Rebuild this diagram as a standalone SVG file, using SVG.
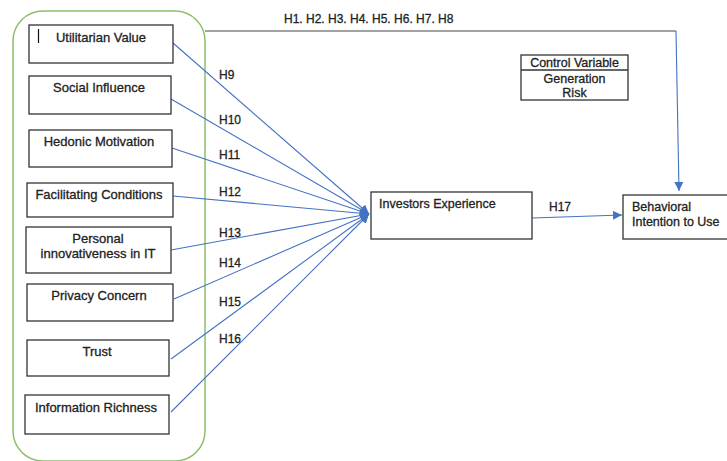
<svg xmlns="http://www.w3.org/2000/svg" width="727" height="461" viewBox="0 0 727 461">
<defs>
<marker id="ah" viewBox="0 0 10 10" refX="10" refY="5" markerWidth="9" markerHeight="9" markerUnits="userSpaceOnUse" orient="auto">
<path d="M0,0 L10,5 L0,10 Z" fill="#4472C4"/>
</marker>
<style>
.box{fill:#fff;stroke:#333;stroke-width:1.3}
.t{font-family:"Liberation Sans",Arial,sans-serif;font-size:13px;fill:#222;stroke:#222;stroke-width:0.3;text-anchor:middle}
.tl{font-family:"Liberation Sans",Arial,sans-serif;font-size:12.5px;fill:#222;stroke:#222;stroke-width:0.3}
.h{font-family:"Liberation Sans",Arial,sans-serif;font-size:12px;fill:#222;stroke:#222;stroke-width:0.3}
.c{stroke:#4472C4;stroke-width:1.1;fill:none}
</style>
</defs>
<rect width="727" height="461" fill="#fff"/>
<rect x="13" y="11" width="192" height="450" rx="30" ry="30" fill="none" stroke="#8DC06A" stroke-width="1.5"/>

<g id="connectors">
<polyline points="205,31 676,31" fill="none" stroke="#444" stroke-width="1.2"/>
<line class="c" x1="676" y1="31" x2="679" y2="191" marker-end="url(#ah)"/>
<line class="c" x1="173" y1="43" x2="369" y2="214" marker-end="url(#ah)"/>
<line class="c" x1="171" y1="99" x2="369" y2="214" marker-end="url(#ah)"/>
<line class="c" x1="172" y1="148" x2="369" y2="214" marker-end="url(#ah)"/>
<line class="c" x1="173" y1="196" x2="369" y2="214" marker-end="url(#ah)"/>
<line class="c" x1="171" y1="250" x2="369" y2="214" marker-end="url(#ah)"/>
<line class="c" x1="174" y1="299" x2="369" y2="214" marker-end="url(#ah)"/>
<line class="c" x1="171" y1="359" x2="369" y2="214" marker-end="url(#ah)"/>
<line class="c" x1="171" y1="412" x2="369" y2="214" marker-end="url(#ah)"/>
<line class="c" x1="532" y1="218" x2="622" y2="215" marker-end="url(#ah)"/>
<text class="h" x="284" y="23">H1. H2. H3. H4. H5. H6. H7. H8</text>
<text class="h" x="219" y="79">H9</text>
<text class="h" x="219" y="124">H10</text>
<text class="h" x="219" y="159">H11</text>
<text class="h" x="219" y="196">H12</text>
<text class="h" x="219" y="237">H13</text>
<text class="h" x="219" y="267">H14</text>
<text class="h" x="219" y="306">H15</text>
<text class="h" x="219" y="343">H16</text>
<text class="h" x="549" y="211">H17</text>
</g>

<g id="utilitarian">
<rect class="box" x="29" y="25" width="144" height="38"/>
<line x1="38.5" y1="29" x2="38.5" y2="43" stroke="#111" stroke-width="1.2"/>
<text class="t" x="101" y="41.5">Utilitarian Value</text>
</g>
<g id="social">
<rect class="box" x="29" y="76" width="142" height="38"/>
<text class="t" x="99" y="91.5">Social Influence</text>
</g>
<g id="hedonic">
<rect class="box" x="29" y="130" width="143" height="37"/>
<text class="t" x="99" y="145.5">Hedonic Motivation</text>
</g>
<g id="facilitating">
<rect class="box" x="27" y="183" width="146" height="34"/>
<text class="t" x="99" y="198.5">Facilitating Conditions</text>
</g>
<g id="personal">
<rect class="box" x="26" y="227" width="145" height="46"/>
<text class="t" x="98" y="242.5">Personal</text>
<text class="t" x="98" y="257.5">innovativeness in IT</text>
</g>
<g id="privacy">
<rect class="box" x="27" y="284" width="146" height="37"/>
<text class="t" x="99" y="299.5">Privacy Concern</text>
</g>
<g id="trust">
<rect class="box" x="27" y="340" width="142" height="36"/>
<text class="t" x="97" y="355.5">Trust</text>
</g>
<g id="information">
<rect class="box" x="25" y="395" width="144" height="39"/>
<text class="t" x="96" y="411.5">Information Richness</text>
</g>
<g id="investors">
<rect class="box" x="371" y="192" width="161" height="47"/>
<text class="tl" x="379" y="207.5">Investors Experience</text>
</g>
<g id="behavioral">
<rect class="box" x="623" y="195" width="110" height="44"/>
<text class="tl" x="632" y="210.5">Behavioral</text>
<text class="tl" x="632" y="225.5">Intention to Use</text>
</g>
<g id="control">
<rect class="box" x="521" y="55" width="107" height="45"/>
<line x1="521" y1="70" x2="628" y2="70" stroke="#333" stroke-width="1.3"/>
<text class="tl" x="574.5" y="66.5" text-anchor="middle">Control Variable</text>
<text class="tl" x="574.5" y="83" text-anchor="middle">Generation</text>
<text class="tl" x="574.5" y="97" text-anchor="middle">Risk</text>
</g>
</svg>
